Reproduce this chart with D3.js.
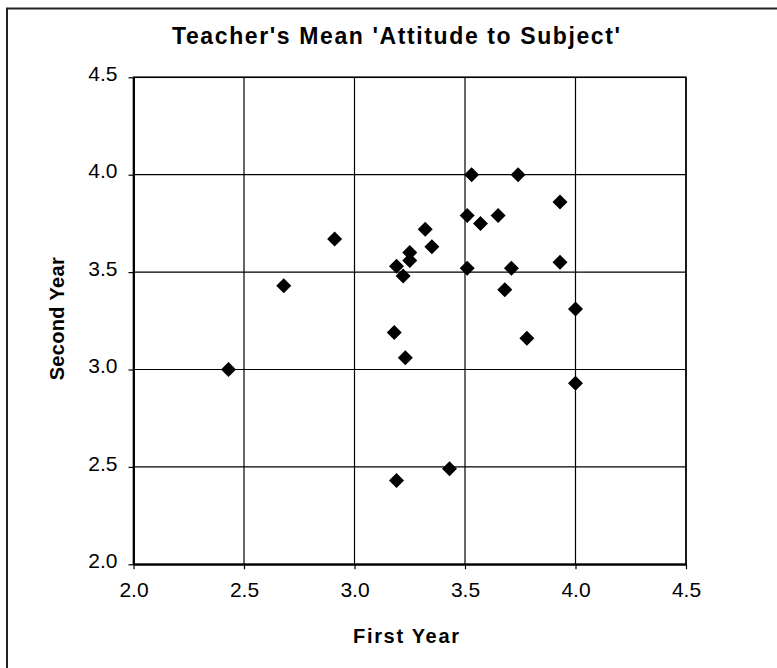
<!DOCTYPE html>
<html><head><meta charset="utf-8">
<script src="https://cdn.jsdelivr.net/npm/d3@7"></script>
<style>html,body{margin:0;padding:0;background:#fff;}svg{display:block;}</style>
</head><body>
<svg id="c" width="777" height="668"></svg>
<script>
const title = "Teacher's Mean 'Attitude to Subject'";
const xLabel = "First Year";
const yLabel = "Second Year";
const xTicks = [2.0, 2.5, 3.0, 3.5, 4.0, 4.5];
const yTicks = [2.0, 2.5, 3.0, 3.5, 4.0, 4.5];
const firstYear  = [2.91, 2.68, 3.19, 3.25, 3.25, 3.22, 3.53, 3.74, 3.93, 3.51, 3.57, 3.65, 3.32, 3.35, 3.51, 3.71, 3.93, 3.68, 4.00, 3.18, 3.23, 2.43, 3.19, 3.78, 4.00, 3.43];
const secondYear = [3.67, 3.43, 3.53, 3.60, 3.56, 3.48, 4.00, 4.00, 3.86, 3.79, 3.75, 3.79, 3.72, 3.63, 3.52, 3.52, 3.55, 3.41, 3.31, 3.19, 3.06, 3.00, 2.43, 3.16, 2.93, 2.49];

const FONT = "Liberation Sans, Arial, Helvetica, sans-serif";
const svg = d3.select("#c");
const L = 133.5, R = 686, T = 77.3, B = 564.3;
const x = d3.scaleLinear().domain([2, 4.5]).range([L, R]);
const y = d3.scaleLinear().domain([2, 4.5]).range([B, T]);

// outer frame (left & top only visible)
svg.append("path").attr("d", "M7,668V8.5H777").attr("fill", "none").attr("stroke", "#222").attr("stroke-width", 2);

// grid
const g = svg.append("g");
g.selectAll(".vg").data(xTicks).join("line")
  .attr("x1", d => x(d)).attr("x2", d => x(d)).attr("y1", T).attr("y2", B)
  .attr("stroke", "#000").attr("stroke-width", 1.2);
g.selectAll(".hg").data(yTicks).join("line")
  .attr("x1", L).attr("x2", R).attr("y1", d => y(d)).attr("y2", d => y(d))
  .attr("stroke", "#000").attr("stroke-width", 1.2);

// axes
const fmt = d3.format(".1f");
const xa = svg.append("g").attr("transform", `translate(0,${B})`)
  .call(d3.axisBottom(x).tickValues(xTicks).tickFormat(fmt).tickSize(5).tickSizeOuter(0).tickPadding(13));
const ya = svg.append("g").attr("transform", `translate(${L},0)`)
  .call(d3.axisLeft(y).tickValues(yTicks).tickFormat(fmt).tickSize(5).tickSizeOuter(0).tickPadding(11));
[xa, ya].forEach(a => {
  a.attr("font-family", FONT).attr("font-size", 21);
  a.select(".domain").attr("stroke", "#000").attr("stroke-width", 2);
  a.selectAll(".tick line").attr("stroke", "#000").attr("stroke-width", 1.2);
  a.selectAll("text").attr("fill", "#000").style("font-size", "21px").style("font-family", FONT);
});
ya.selectAll("text").attr("dy", "0.15em");
// plot frame
svg.append("rect").attr("x", L).attr("y", T).attr("width", R - L).attr("height", B - T)
  .attr("fill", "none").attr("stroke", "#000").attr("stroke-width", 1.5);

// points
svg.append("g").selectAll("path").data(firstYear.map((v, i) => [v, secondYear[i]])).join("path")
  .attr("transform", d => `translate(${x(d[0])},${y(d[1])})`)
  .attr("d", "M0,-7.5L7.5,0L0,7.5L-7.5,0Z").attr("fill", "#000");

// titles
svg.append("text").attr("x", 396).attr("y", 43.5).attr("text-anchor", "middle")
  .attr("font-family", FONT).attr("font-weight", "bold").attr("font-size", 23)
  .attr("textLength", 448).attr("lengthAdjust", "spacing")
  .text(title);
svg.append("text").attr("x", 406).attr("y", 643).attr("text-anchor", "middle")
  .attr("font-family", FONT).attr("font-weight", "bold").attr("font-size", 20)
  .attr("textLength", 106).attr("lengthAdjust", "spacing")
  .text(xLabel);
svg.append("text").attr("transform", `translate(64,${(T + B) / 2 - 2}) rotate(-90)`).attr("text-anchor", "middle")
  .attr("font-family", FONT).attr("font-weight", "bold").attr("font-size", 20)
  .attr("textLength", 123).attr("lengthAdjust", "spacing")
  .text(yLabel);
</script>
</body></html>
